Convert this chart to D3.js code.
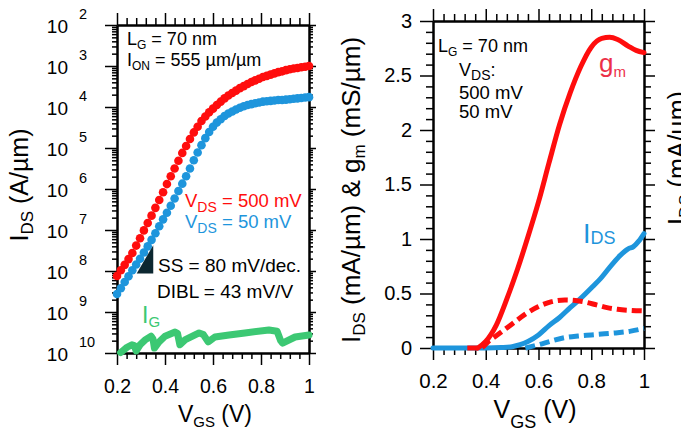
<!DOCTYPE html>
<html>
<head>
<meta charset="utf-8">
<script src="https://cdn.jsdelivr.net/npm/d3@7"></script>
<style>
  body { margin: 0; background: #fff; }
  text { font-family: "Liberation Sans", Arial, sans-serif; }
</style>
</head>
<body>
<script>
// ---- left panel: transfer curves, log10 of I_DS (A/um) ----
var vgsL = [0.200,0.216,0.232,0.248,0.264,0.280,0.296,0.312,0.328,0.344,0.360,0.376,0.392,0.408,0.424,0.440,0.456,
            0.472,0.488,0.504,0.520,0.536,0.552,0.568,0.584,0.600,0.616,0.632,0.648,0.664,0.680,0.696,0.712,0.728,
            0.744,0.760,0.776,0.792,0.808,0.824,0.840,0.856,0.872,0.888,0.904,0.920,0.936,0.952,0.968,0.984,1.000];
var ids500Log = [-8.12,-7.98,-7.85,-7.71,-7.56,-7.38,-7.20,-7.01,-6.83,-6.65,-6.46,-6.27,-6.08,-5.88,-5.69,-5.50,-5.31,
                 -5.12,-4.95,-4.78,-4.62,-4.48,-4.34,-4.23,-4.13,-4.04,-3.95,-3.87,-3.79,-3.72,-3.66,-3.60,-3.54,-3.49,
                 -3.44,-3.39,-3.35,-3.31,-3.27,-3.24,-3.21,-3.18,-3.15,-3.13,-3.10,-3.08,-3.06,-3.05,-3.03,-3.02,-3.00];
var ids50Log  = [-8.56,-8.42,-8.27,-8.13,-7.98,-7.84,-7.70,-7.55,-7.40,-7.24,-7.08,-6.91,-6.74,-6.58,-6.41,-6.23,-6.05,
                 -5.87,-5.69,-5.50,-5.30,-5.11,-4.93,-4.76,-4.61,-4.48,-4.38,-4.30,-4.22,-4.16,-4.11,-4.06,-4.02,-3.98,
                 -3.95,-3.93,-3.91,-3.89,-3.87,-3.86,-3.85,-3.84,-3.83,-3.83,-3.82,-3.81,-3.80,-3.79,-3.78,-3.77,-3.76];
// gate leakage
var gateV   = [0.215,0.242,0.262,0.272,0.280,0.296,0.317,0.342,0.350,0.356,0.375,0.400,0.442,0.452,0.462,0.483,0.542,0.560,
               0.580,0.608,0.667,0.733,0.833,0.867,0.882,0.890,0.942,1.000];
var gateLog = [-9.99,-9.86,-9.80,-9.82,-9.95,-9.80,-9.68,-9.59,-9.66,-9.88,-9.73,-9.59,-9.49,-9.52,-9.80,-9.68,-9.51,-9.55,
               -9.73,-9.61,-9.56,-9.51,-9.44,-9.47,-9.70,-9.76,-9.61,-9.56];
var leftExps = [2,3,4,5,6,7,8,9,10];   // tick labels shown as 10^n
var ssTriangle = [[0.351,-7.37],[0.282,-8.06],[0.351,-8.06]];

// ---- right panel: linear I_DS (mA/um) and gm (mS/um) ----
var gm500V = [0.37,0.40,0.44,0.48,0.52,0.56,0.60,0.64,0.68,0.72,0.76,0.80,0.84,0.87,0.90,0.94,0.97,1.00];
var gm500  = [0,0.06,0.21,0.45,0.72,1.02,1.34,1.70,2.05,2.34,2.58,2.76,2.84,2.85,2.83,2.77,2.73,2.71];
var gm50V  = [0.33,0.38,0.41,0.45,0.50,0.55,0.60,0.65,0.70,0.74,0.78,0.82,0.86,0.90,0.95,1.00];
var gm50   = [0,0,0.06,0.13,0.22,0.31,0.38,0.425,0.44,0.435,0.42,0.395,0.37,0.355,0.345,0.34];
var ids500V = [0.20,0.30,0.40,0.46,0.50,0.53,0.56,0.60,0.64,0.68,0.72,0.76,0.80,0.84,0.88,0.91,0.94,0.96,0.98,1.00];
var ids500  = [0,0,0,0.004,0.012,0.03,0.06,0.12,0.205,0.28,0.37,0.455,0.55,0.65,0.77,0.85,0.91,0.93,0.98,1.05];
var ids50V  = [0.55,0.60,0.65,0.70,0.75,0.80,0.85,0.90,0.95,1.00];
var ids50   = [0,0.03,0.065,0.095,0.11,0.12,0.13,0.14,0.155,0.18];

var RED = "#ff0d0d", BLUE = "#1e95dc", GREEN = "#3cc873", PINK = "#ec3048";

var svg = d3.select("body").append("svg").attr("width", 681).attr("height", 431);

// text with sub/superscripts: parts = [text, fontSize, baselineShift]
function rich(x, y, parts, o) {
  o = o || {};
  var t = svg.append("text").attr("x", x).attr("y", y)
    .attr("font-size", o.size || 18).attr("fill", o.color || "#000")
    .attr("text-anchor", o.anchor || "start");
  if (o.rotate) t.attr("transform", "rotate(-90," + x + "," + y + ")");
  var shift = 0;
  parts.forEach(function(p) {
    var s = p[2] || 0;
    var ts = t.append("tspan").attr("dy", s - shift).text(p[0]);
    if (p[1]) ts.attr("font-size", p[1]);
    shift = s;
  });
  return t;
}

function axis(fn, scale, values, size, translate, fmt) {
  var a = fn(scale).tickValues(values).tickSize(size).tickSizeOuter(0)
    .tickFormat(fmt || function() { return ""; });
  var g = svg.append("g").attr("transform", translate).call(a);
  g.select(".domain").attr("stroke-width", 2);
  g.selectAll(".tick line").attr("stroke-width", 1.5);
  g.attr("font-family", "Liberation Sans, Arial, sans-serif");
  return g;
}

// ================= LEFT PANEL =================
var xL = d3.scaleLinear().domain([0.2, 1]).range([117, 309]);
var yL = d3.scaleLinear().domain([-10, -2]).range([353, 25]);   // log10 units

var xMajor = [0.2, 0.4, 0.6, 0.8, 1];
var xMinor = d3.range(5, 26).filter(function(i) { return i % 5; }).map(function(i) { return i * 0.04; });
var logMinor = [];
for (var e = -10; e < -2; e++) for (var k = 2; k <= 9; k++) logMinor.push(e + Math.log10(k));
var logMajor = leftExps.map(function(n) { return -n; });

axis(d3.axisBottom, xL, xMinor, 6, "translate(0,353)");
var bl = axis(d3.axisBottom, xL, xMajor, 12, "translate(0,353)", function(d) { return String(d); });
bl.attr("font-size", 19.5).selectAll("text").attr("y", 40).attr("dy", null).attr("fill", "#000");
axis(d3.axisTop, xL, xMinor, 7, "translate(0,25)");
axis(d3.axisTop, xL, xMajor, 12, "translate(0,25)");
axis(d3.axisLeft, yL, logMinor, 5, "translate(117,0)");
axis(d3.axisLeft, yL, logMajor, 12, "translate(117,0)");
axis(d3.axisRight, yL, logMinor, 4, "translate(309,0)");
axis(d3.axisRight, yL, logMajor, 7, "translate(309,0)");

leftExps.forEach(function(n) {
  var y = yL(-n);
  svg.append("text").attr("x", 68).attr("y", y + 8).attr("text-anchor", "end")
    .attr("font-size", 19).text("10");
  svg.append("text").attr("x", 79).attr("y", y - 6.5)
    .attr("font-size", 14.5).text(String(n));
});

// gate current trace
svg.append("path")
  .datum(gateV.map(function(v, i) { return [v, gateLog[i]]; }))
  .attr("fill", "none").attr("stroke", GREEN).attr("stroke-width", 7)
  .attr("stroke-linejoin", "round").attr("stroke-linecap", "round")
  .attr("d", d3.line().x(function(d) { return xL(d[0]); }).y(function(d) { return yL(d[1]); }));

svg.append("g").selectAll("circle").data(vgsL).enter().append("circle")
  .attr("cx", function(d) { return xL(d); })
  .attr("cy", function(d, i) { return yL(ids500Log[i]); })
  .attr("r", 4.3).attr("fill", RED);
svg.append("g").selectAll("circle").data(vgsL).enter().append("circle")
  .attr("cx", function(d) { return xL(d); })
  .attr("cy", function(d, i) { return yL(ids50Log[i]); })
  .attr("r", 4.3).attr("fill", BLUE);

svg.append("path")
  .attr("fill", "#0c2730")
  .attr("d", d3.line().x(function(d) { return xL(d[0]); }).y(function(d) { return yL(d[1]); })(ssTriangle) + "Z");

rich(127, 45, [["L"], ["G", 12, 4], [" = 70 nm", null, 0]], {size: 18});
rich(127, 66, [["I"], ["ON", 12, 4], [" = 555 \u00b5m/\u00b5m", null, 0]], {size: 18});
rich(185, 207, [["V"], ["DS", 14, 5], [" = 500 mV", null, 0]], {size: 18.5, color: RED});
rich(185, 228, [["V"], ["DS", 14, 5], [" = 50 mV", null, 0]], {size: 18.5, color: BLUE});
rich(158, 272, [["SS = 80 mV/dec."]], {size: 19});
rich(157, 298, [["DIBL = 43 mV/V"]], {size: 19});
rich(142, 323, [["I"], ["G", 15, 4]], {size: 23, color: GREEN});

rich(215, 422, [["V"], ["GS", 15, 5], [" (V)", null, 0]], {size: 23, anchor: "middle"});
rich(28, 185, [["I"], ["DS", 17, 5], [" (A/\u00b5m)", null, 0]], {size: 25, anchor: "middle", rotate: true});

// ================= RIGHT PANEL =================
var xR = d3.scaleLinear().domain([0.2, 1]).range([433, 644]);
var yR = d3.scaleLinear().domain([0, 3]).range([348, 21]);
var yMajor = [0, 0.5, 1, 1.5, 2, 2.5, 3];
var yMinor = d3.range(0, 31).filter(function(i) { return i % 5; }).map(function(i) { return i / 10; });

axis(d3.axisBottom, xR, xMinor, 7, "translate(0,348)");
var br = axis(d3.axisBottom, xR, xMajor, 12, "translate(0,348)", function(d) { return String(d); });
br.attr("font-size", 20.5).selectAll("text").attr("y", 40).attr("dy", null).attr("fill", "#000");
axis(d3.axisTop, xR, xMinor, 7, "translate(0,21)");
axis(d3.axisTop, xR, xMajor, 12, "translate(0,21)");
axis(d3.axisLeft, yR, yMinor, 7, "translate(433,0)");
var lr = axis(d3.axisLeft, yR, yMajor, 13, "translate(433,0)", function(d) { return String(d); });
lr.attr("font-size", 20).selectAll("text").attr("x", -21).attr("fill", "#000");
axis(d3.axisRight, yR, yMinor, 7, "translate(644,0)");
axis(d3.axisRight, yR, yMajor, 11, "translate(644,0)");

var lineR = d3.line().curve(d3.curveMonotoneX)
  .x(function(d) { return xR(d[0]); }).y(function(d) { return yR(d[1]); });
function curve(vs, ys, color, dashed) {
  svg.append("path")
    .datum(vs.map(function(v, i) { return [v, ys[i]]; }))
    .attr("fill", "none").attr("stroke", color).attr("stroke-width", 5)
    .attr("stroke-linecap", dashed ? "butt" : "round")
    .attr("stroke-dasharray", dashed ? "10,5" : null)
    .attr("d", lineR);
}
curve(ids500V, ids500, BLUE, false);
curve(ids50V, ids50, BLUE, true);
curve(gm50V, gm50, RED, true);
curve(gm500V, gm500, RED, false);

rich(438, 52, [["L"], ["G", 12, 4], [" = 70 nm", null, 0]], {size: 18});
rich(459, 76, [["V"], ["DS", 14, 4], [":", null, 0]], {size: 18});
rich(459, 99, [["500 mV"]], {size: 18.5});
rich(459, 118, [["50 mV"]], {size: 18.5});
rich(599, 72, [["g"], ["m", 15, 5]], {size: 26, color: PINK});
rich(583, 243, [["I"], ["DS", 18, 1]], {size: 27, color: BLUE});

rich(535, 418, [["V"], ["GS", 18, 10], [" (V)", null, 0]], {size: 25, anchor: "middle"});
rich(360, 190, [["I"], ["DS", 17, 5], [" (mA/\u00b5m) & g", null, 0], ["m", 17, 5], [" (mS/\u00b5m)", null, 0]],
     {size: 26, anchor: "middle", rotate: true});
rich(686, 158, [["I"], ["DS", 17, 5], [" (mA/\u00b5m)", null, 0]], {size: 25, anchor: "middle", rotate: true});
</script>
</body>
</html>
